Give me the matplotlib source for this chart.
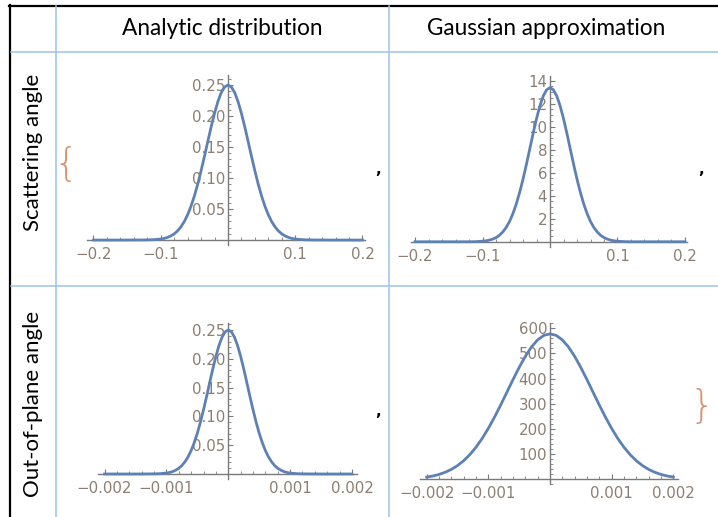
import matplotlib
matplotlib.use("Agg")
import matplotlib.pyplot as plt
from matplotlib.ticker import MultipleLocator, FixedLocator, FixedFormatter

# column / row headers
col_titles = ["Analytic distribution", "Gaussian approximation"]
row_titles = ["Scattering angle", "Out-of-plane angle"]

# scattering angle grid
ang_scat = [-0.2, -0.15, -0.12, -0.11, -0.1, -0.095, -0.09, -0.085, -0.08, -0.075,
            -0.07, -0.065, -0.06, -0.055, -0.05, -0.045, -0.04, -0.035, -0.03, -0.025,
            -0.02, -0.015, -0.01, -0.005, 0.0, 0.005, 0.01, 0.015, 0.02, 0.025,
            0.03, 0.035, 0.04, 0.045, 0.05, 0.055, 0.06, 0.065, 0.07, 0.075,
            0.08, 0.085, 0.09, 0.095, 0.1, 0.11, 0.12, 0.15, 0.2]
analytic_scat = [0, 0, 0.0002, 0.0006, 0.0016, 0.0026, 0.0042, 0.0066, 0.0099, 0.0147,
                 0.0212, 0.0297, 0.0407, 0.0544, 0.0709, 0.0901, 0.1117, 0.1348, 0.1589, 0.1825,
                 0.2043, 0.2232, 0.2377, 0.2469, 0.25, 0.2469, 0.2377, 0.2232, 0.2043, 0.1825,
                 0.1589, 0.1348, 0.1117, 0.0901, 0.0709, 0.0544, 0.0407, 0.0297, 0.0212, 0.0147,
                 0.0099, 0.0066, 0.0042, 0.0026, 0.0016, 0.0006, 0.0002, 0, 0]
gauss_scat = [0, 0, 0.0, 0.01, 0.05, 0.08, 0.14, 0.23, 0.36, 0.56,
              0.85, 1.24, 1.76, 2.44, 3.28, 4.29, 5.44, 6.72, 8.07, 9.43,
              10.70, 11.81, 12.67, 13.21, 13.40, 13.21, 12.67, 11.81, 10.70, 9.43,
              8.07, 6.72, 5.44, 4.29, 3.28, 2.44, 1.76, 1.24, 0.85, 0.56,
              0.36, 0.23, 0.14, 0.08, 0.05, 0.01, 0.0, 0, 0]

# out-of-plane angle, analytic panel
ang_oop = [-0.002, -0.0015, -0.0012, -0.0011, -0.001, -0.00095, -0.0009, -0.00085, -0.0008, -0.00075,
           -0.0007, -0.00065, -0.0006, -0.00055, -0.0005, -0.00045, -0.0004, -0.00035, -0.0003, -0.00025,
           -0.0002, -0.00015, -0.0001, -0.00005, 0.0, 0.00005, 0.0001, 0.00015, 0.0002, 0.00025,
           0.0003, 0.00035, 0.0004, 0.00045, 0.0005, 0.00055, 0.0006, 0.00065, 0.0007, 0.00075,
           0.0008, 0.00085, 0.0009, 0.00095, 0.001, 0.0011, 0.0012, 0.0015, 0.002]
analytic_oop = [0, 0, 0.0002, 0.0006, 0.0016, 0.0026, 0.0042, 0.0066, 0.0099, 0.0147,
                0.0212, 0.0297, 0.0407, 0.0544, 0.0709, 0.0901, 0.1117, 0.1348, 0.1589, 0.1825,
                0.2043, 0.2232, 0.2377, 0.2469, 0.25, 0.2469, 0.2377, 0.2232, 0.2043, 0.1825,
                0.1589, 0.1348, 0.1117, 0.0901, 0.0709, 0.0544, 0.0407, 0.0297, 0.0212, 0.0147,
                0.0099, 0.0066, 0.0042, 0.0026, 0.0016, 0.0006, 0.0002, 0, 0]

# out-of-plane angle, gaussian panel
ang_oop_g = [-0.002, -0.0019, -0.0018, -0.0017, -0.0016, -0.0015, -0.0014, -0.0013, -0.0012, -0.0011,
             -0.001, -0.0009, -0.0008, -0.0007, -0.0006, -0.0005, -0.0004, -0.0003, -0.0002, -0.0001,
             0.0, 0.0001, 0.0002, 0.0003, 0.0004, 0.0005, 0.0006, 0.0007, 0.0008, 0.0009,
             0.001, 0.0011, 0.0012, 0.0013, 0.0014, 0.0015, 0.0016, 0.0017, 0.0018, 0.0019, 0.002]
gauss_oop = [8.7, 13.0, 19.2, 27.8, 39.3, 54.4, 73.8, 98.0, 127.4, 162.2,
             202.2, 246.9, 295.1, 345.5, 396.0, 444.5, 488.6, 525.9, 554.2, 572.0,
             578.0, 572.0, 554.2, 525.9, 488.6, 444.5, 396.0, 345.5, 295.1, 246.9,
             202.2, 162.2, 127.4, 98.0, 73.8, 54.4, 39.3, 27.8, 19.2, 13.0, 8.7]

xt_scat = [-0.2, -0.1, 0.1, 0.2]
xl_scat = ["\u22120.2", "\u22120.1", "0.1", "0.2"]
xt_oop = [-0.002, -0.001, 0.001, 0.002]
xl_oop = ["\u22120.002", "\u22120.001", "0.001", "0.002"]
yt_analytic = [0.05, 0.10, 0.15, 0.20, 0.25]
yl_analytic = ["0.05", "0.10", "0.15", "0.20", "0.25"]
yt_gscat = [2, 4, 6, 8, 10, 12, 14]
yt_goop = [100, 200, 300, 400, 500, 600]

W, H = 718, 517
LINE = "#5e81b5"
AXC = "#7a7a7a"
LBL = "#8c7f72"
GRID = "#9dc3e6"

fig = plt.figure(figsize=(W / 100, H / 100), dpi=100)


def panel(left, right, top, bottom):
    return fig.add_axes([left / W, 1 - bottom / H, (right - left) / W, (bottom - top) / H])


def style(ax, x, y, xlim, ylim, xt, xl, yt, yl, xminor, yminor):
    ax.plot(x, y, color=LINE, lw=2, clip_on=False, zorder=3)
    ax.set_xlim(*xlim)
    ax.set_ylim(*ylim)
    for s in ["top", "right"]:
        ax.spines[s].set_visible(False)
    ax.spines["left"].set_position(("data", 0))
    ax.spines["bottom"].set_position(("data", 0))
    for s in ["left", "bottom"]:
        ax.spines[s].set_color(AXC)
        ax.spines[s].set_linewidth(1.0)
    ax.xaxis.set_major_locator(FixedLocator(xt))
    ax.xaxis.set_major_formatter(FixedFormatter(xl))
    ax.yaxis.set_major_locator(FixedLocator(yt))
    ax.yaxis.set_major_formatter(FixedFormatter(yl))
    ax.xaxis.set_minor_locator(MultipleLocator(xminor))
    ax.yaxis.set_minor_locator(MultipleLocator(yminor))
    ax.tick_params(which="major", direction="in", length=3.5, width=0.8, color=AXC,
                   labelcolor=LBL, labelsize=10.8)
    ax.tick_params(axis="x", which="major", pad=5)
    ax.tick_params(axis="y", which="major", pad=2)
    ax.tick_params(which="minor", direction="in", length=2, width=0.6, color=AXC)
    ax.patch.set_alpha(0)


ax1 = panel(87.4, 364.5, 75.1, 245.0)
style(ax1, ang_scat, analytic_scat, (-0.209, 0.203), (-0.008, 0.266),
      xt_scat, xl_scat, yt_analytic, yl_analytic, 0.02, 0.01)

ax2 = panel(411.0, 687.0, 76.1, 246.7)
style(ax2, ang_scat, gauss_scat, (-0.206, 0.203), (-0.43, 14.4),
      xt_scat, xl_scat, yt_gscat, [str(v) for v in yt_gscat], 0.02, 0.5)

ax3 = panel(98.4, 356.9, 323.1, 479.0)
style(ax3, ang_oop, analytic_oop, (-0.0021, 0.00208), (-0.0087, 0.262),
      xt_oop, xl_oop, yt_analytic, yl_analytic, 0.0002, 0.01)

ax4 = panel(419.9, 678.2, 323.3, 484.3)
style(ax4, ang_oop_g, gauss_oop, (-0.00211, 0.00208), (-20, 620),
      xt_oop, xl_oop, yt_goop, [str(v) for v in yt_goop], 0.0002, 20)

# table frame, drawn in pixel coordinates on an overlay
ov = fig.add_axes([0, 0, 1, 1], zorder=-1)
ov.set_xlim(0, W)
ov.set_ylim(H, 0)
ov.axis("off")
ov.plot([9, W], [5.5, 5.5], color="black", lw=1.6)
ov.plot([10, 10], [5, H], color="black", lw=1.6)
for xv in [56, 389]:
    ov.plot([xv, xv], [6, H], color=GRID, lw=1.1)
for yv in [51.7, 285.5]:
    ov.plot([10.8, W], [yv, yv], color=GRID, lw=1.1)

hfont = "Lato"
ov.text(222.5, 28.5, col_titles[0], ha="center", va="center", fontsize=16.3, family=hfont)
ov.text(546.5, 28.5, col_titles[1], ha="center", va="center", fontsize=16.3, family=hfont)
ov.text(33, 152, row_titles[0], ha="center", va="center", rotation=90, fontsize=16, family=hfont)
ov.text(33, 404, row_titles[1], ha="center", va="center", rotation=90, fontsize=16, family=hfont)

# leftover notebook punctuation around the graphics
ov.text(66, 165, "{", ha="center", va="center", fontsize=28, color="#d9906c", family="DejaVu Sans",
        fontweight="light")
ov.text(702, 407, "}", ha="center", va="center", fontsize=28, color="#d9906c", family="DejaVu Sans",
        fontweight="light")
for cx, cy in [(378, 170), (701, 170), (378, 411)]:
    ov.text(cx, cy, ",", ha="center", va="center", fontsize=11, fontweight="bold", color="black")

fig.savefig("out.png", dpi=100)
